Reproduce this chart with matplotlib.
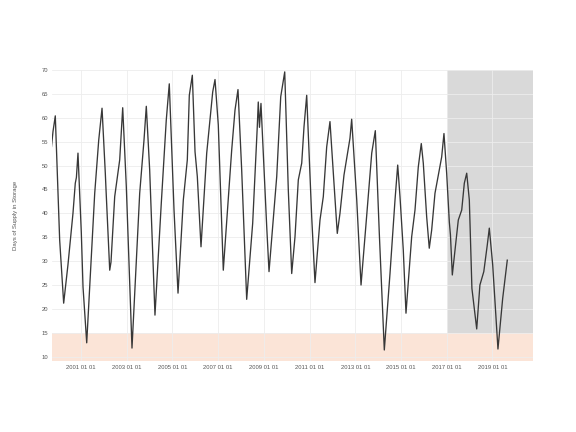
import numpy as np
import pandas as pd
import matplotlib
matplotlib.use('Agg')
import matplotlib.pyplot as plt
import matplotlib.dates as mdates

plt.rcParams['font.family'] = ['Liberation Sans', 'DejaVu Sans']

# Fecha (año decimal) y días de suministro
anio = [1999.71, 1999.775, 1999.876, 2000.068, 2000.243, 2000.43, 2000.65, 2000.751, 2000.80, 2000.869,
        2001.013, 2001.087, 2001.249, 2001.599, 2001.774, 2001.919,
        2002.063, 2002.094, 2002.256, 2002.312, 2002.474, 2002.693, 2002.824,
        2002.982, 2003.231, 2003.568, 2003.756, 2003.857,
        2004.005, 2004.237, 2004.513, 2004.731, 2004.863,
        2005.068, 2005.243, 2005.475, 2005.650, 2005.737, 2005.869,
        2005.987, 2006.088, 2006.249, 2006.499, 2006.761, 2006.862,
        2007.006, 2007.225, 2007.592, 2007.737, 2007.868,
        2008.030, 2008.249, 2008.511, 2008.712, 2008.756, 2008.808, 2008.874,
        2009.123, 2009.224, 2009.561, 2009.736, 2009.911,
        2010.068, 2010.217, 2010.361, 2010.506, 2010.655, 2010.755, 2010.873,
        2011.092, 2011.236, 2011.455, 2011.600, 2011.748, 2011.892,
        2012.068, 2012.212, 2012.330, 2012.505, 2012.767, 2012.842,
        2013.061, 2013.249, 2013.498, 2013.717, 2013.874,
        2014.049, 2014.268, 2014.517, 2014.736, 2014.854, 2014.954,
        2015.099, 2015.217, 2015.466, 2015.611, 2015.755, 2015.886,
        2015.974, 2016.122, 2016.236, 2016.341, 2016.486, 2016.779, 2016.879,
        2016.997, 2017.111, 2017.16, 2017.242, 2017.360, 2017.504, 2017.654, 2017.767, 2017.872,
        2017.986, 2018.10, 2018.310, 2018.45, 2018.62, 2018.773, 2018.861,
        2019.010, 2019.24, 2019.447, 2019.648]
dias = [54.0, 57.1, 60.4, 34.4, 21.2, 29.2, 40.0, 46.3, 47.5, 52.6,
        35.9, 24.6, 12.9, 44.2, 55.3, 62.0,
        48.4, 45.0, 28.1, 29.8, 43.5, 51.2, 62.1,
        45.6, 11.8, 44.2, 55.3, 62.4,
        49.1, 18.7, 42.1, 59.5, 67.1,
        40.7, 23.3, 42.8, 51.2, 64.7, 68.9,
        52.9, 47.7, 33.0, 52.6, 65.4, 68.0,
        58.5, 28.1, 53.2, 61.6, 65.9,
        49.1, 22.0, 37.9, 58.1, 63.3, 58.0, 63.0,
        37.2, 27.8, 47.7, 64.4, 69.6,
        44.9, 27.4, 35.1, 47.0, 50.5, 58.1, 64.7,
        39.3, 25.5, 38.6, 43.5, 53.9, 59.2,
        46.3, 35.8, 40.0, 48.0, 55.7, 59.7,
        42.8, 25.0, 39.6, 52.6, 57.3,
        35.8, 11.4, 27.4, 42.8, 50.1, 43.5,
        32.3, 19.1, 35.1, 40.7, 49.7, 54.6,
        50.5, 39.3, 32.7, 36.5, 44.2, 51.8, 56.7,
        48.4, 38.2, 35.5, 27.1, 32.3, 38.6, 40.7, 46.3, 48.4,
        42.8, 24.3, 15.8, 25.0, 27.8, 33.4, 36.9,
        29.2, 11.6, 22.2, 30.2]

def a_fecha(a):
    y = int(np.floor(a))
    return pd.Timestamp(year=y, month=1, day=1) + pd.Timedelta(days=(a - y) * 365.25)

fechas = [a_fecha(a) for a in anio]
x_ini = a_fecha(1999.745)
x_fin = a_fecha(2020.76)
inicio_pronostico = pd.Timestamp('2017-01-01')

fig = plt.figure(figsize=(5.76, 4.32), dpi=100)
ax = fig.add_axes([0.0908, 0.1644, 0.834, 0.6736])

# zonas sombreadas
ax.axhspan(9.1, 15, color='#fbe4d7', lw=0, zorder=0)
ax.axvspan(inicio_pronostico, x_fin, ymin=(15 - 9.1) / (70 - 9.1), ymax=1,
           color='#d9d9d9', lw=0, zorder=0)

ax.plot(fechas, dias, color='#383838', lw=0.95, zorder=3)

ax.set_xlim(x_ini, x_fin)
ax.set_ylim(9.1, 70)
ax.set_yticks(np.arange(10, 71, 5))
ax.xaxis.set_major_formatter(mdates.DateFormatter('%Y %m %d'))
ax.set_xticks([pd.Timestamp(f'{y}-01-01') for y in range(2001, 2020, 2)])

ax.grid(True, color='#ededed', lw=0.6, zorder=1)
ax.set_axisbelow(False)
for s in ax.spines.values():
    s.set_visible(False)
ax.tick_params(length=0, labelsize=4.2, labelcolor='#555555', pad=3)
ax.set_ylabel('Days of Supply in Storage', fontsize=4.3, color='#555555', labelpad=17)

fig.savefig('out.png', dpi=100)
